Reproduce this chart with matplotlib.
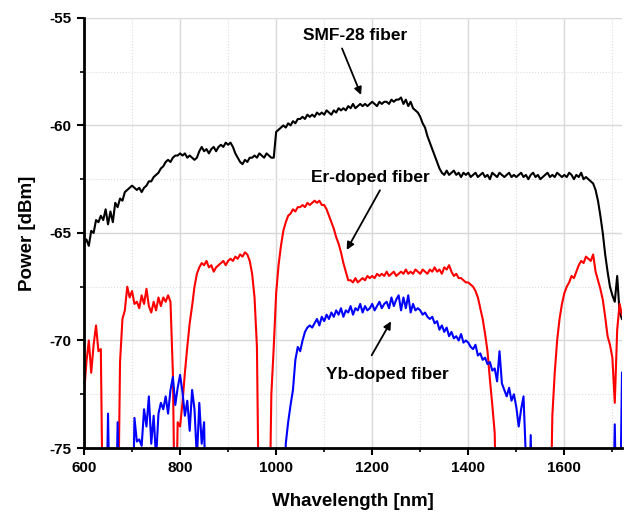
import numpy as np
import matplotlib
matplotlib.use("Agg")
import matplotlib.pyplot as plt
from matplotlib.ticker import MultipleLocator

plt.rcParams["font.family"] = ["Liberation Sans", "DejaVu Sans"]
plt.rcParams["font.weight"] = "bold"
plt.rcParams["axes.unicode_minus"] = False

# wavelength grid, 5 nm steps from 600 to 1720 nm
wavelength = np.arange(600, 1721, 5)

# values below -75 dBm fall off the plotted range (-80 = below the axis)
smf28 = [
    -65.5, -65.3, -65.6, -64.9, -65.0, -64.4, -64.5, -64.2, -64.4, -63.9, -64.6, -64.0, -64.5, -63.6, -63.8, -63.4, -63.5, -63.1, -63.0, -62.9,
    -62.8, -62.9, -63.0, -62.9, -63.1, -62.9, -62.8, -62.6, -62.6, -62.4, -62.3, -62.2, -62.0, -61.9, -61.7, -61.6, -61.7, -61.5, -61.4, -61.4,
    -61.3, -61.4, -61.3, -61.5, -61.4, -61.5, -61.6, -61.5, -61.2, -61.0, -61.2, -61.1, -61.3, -61.1, -61.0, -61.2, -61.0, -60.9, -61.0, -60.8,
    -60.9, -60.8, -61.0, -61.3, -61.5, -61.7, -61.8, -61.6, -61.7, -61.5, -61.5, -61.4, -61.5, -61.3, -61.4, -61.5, -61.3, -61.4, -61.5, -61.5,
    -60.3, -60.2, -60.1, -60.0, -60.1, -59.9, -60.0, -59.8, -59.9, -59.7, -59.7, -59.6, -59.7, -59.5, -59.6, -59.5, -59.6, -59.4, -59.5, -59.4,
    -59.5, -59.3, -59.4, -59.5, -59.3, -59.4, -59.2, -59.3, -59.2, -59.3, -59.1, -59.2, -59.0, -59.2, -59.1, -59.0, -59.1, -59.0, -59.1, -59.0,
    -58.9, -59.0, -59.1, -58.9, -59.0, -58.9, -58.9, -59.0, -58.8, -58.9, -58.8, -58.8, -58.7, -59.0, -58.8, -59.1, -58.9, -59.2, -59.3, -59.4,
    -59.6, -59.9, -60.1, -60.5, -60.8, -61.1, -61.4, -61.7, -62.0, -62.2, -62.3, -62.1, -62.3, -62.2, -62.1, -62.3, -62.2, -62.4, -62.2, -62.3,
    -62.2, -62.4, -62.3, -62.2, -62.4, -62.3, -62.2, -62.4, -62.3, -62.5, -62.2, -62.3, -62.4, -62.2, -62.3, -62.4, -62.3, -62.2, -62.4, -62.3,
    -62.4, -62.3, -62.2, -62.4, -62.3, -62.5, -62.3, -62.2, -62.4, -62.3, -62.5, -62.4, -62.3, -62.2, -62.4, -62.3, -62.4, -62.2, -62.3, -62.4,
    -62.3, -62.4, -62.2, -62.3, -62.5, -62.3, -62.4, -62.2, -62.5, -62.4, -62.5, -62.6, -62.7, -63.0, -63.5, -64.2, -65.0, -66.0, -66.8, -67.5,
    -67.9, -68.2, -67.0, -68.7, -69.0,
]

er_doped = [
    -72.5, -71.0, -70.0, -71.5, -70.2, -69.3, -70.5, -70.4, -80, -80, -80, -80, -80, -80, -80, -71.0, -69.0, -68.6, -67.5, -68.0,
    -67.7, -68.3, -68.2, -68.5, -67.9, -68.3, -67.6, -68.4, -68.7, -68.2, -68.6, -68.0, -68.4, -68.0, -68.2, -67.9, -68.2, -71.5, -80, -73.8,
    -74.0, -72.9, -71.5, -70.3, -69.2, -68.4, -67.5, -66.9, -66.6, -66.4, -66.5, -66.3, -66.6, -66.5, -66.8, -66.6, -66.5, -66.4, -66.3, -66.5,
    -66.3, -66.2, -66.3, -66.1, -66.2, -66.0, -66.1, -65.9, -66.0, -66.3, -66.9, -68.0, -70.3, -80, -80, -80, -80, -80, -72.5, -70.3,
    -67.8, -66.5, -65.6, -64.9, -64.5, -64.2, -64.1, -63.9, -64.0, -63.8, -63.8, -63.7, -63.8, -63.6, -63.7, -63.6, -63.5, -63.6, -63.5, -63.7,
    -63.7, -63.9, -64.2, -64.5, -64.8, -65.2, -65.5, -65.9, -66.4, -66.8, -67.2, -67.2, -67.3, -67.1, -67.3, -67.2, -67.1, -67.2, -67.0, -67.1,
    -67.0, -67.1, -66.9, -67.0, -66.9, -67.0, -66.8, -67.0, -66.9, -66.8, -67.0, -66.9, -66.8, -66.9, -66.7, -66.9, -66.8, -66.9, -66.7, -66.8,
    -66.9, -66.7, -66.8, -66.9, -66.7, -66.8, -66.6, -66.8, -66.7, -66.9, -66.6, -66.7, -66.5, -66.8, -67.0, -66.9, -67.1, -67.1, -67.2, -67.3,
    -67.3, -67.4, -67.5, -67.7, -68.0, -68.5, -69.0, -69.7, -70.5, -71.8, -73.0, -74.3, -80, -80, -80, -80, -80, -80, -80, -80,
    -80, -80, -80, -80, -80, -80, -80, -80, -80, -80, -80, -80, -80, -80, -80, -73.5, -71.5, -70.0, -69.0, -68.3,
    -67.8, -67.5, -67.3, -67.0, -67.1, -66.8, -66.5, -66.3, -66.4, -66.1, -66.2, -66.3, -66.0, -66.8, -67.2, -67.6, -68.1, -68.9, -69.8, -70.2,
    -70.8, -72.9, -69.5, -68.3, -68.8,
]

yb_doped = [
    -80, -80, -80, -80, -80, -80, -80, -80, -80, -80, -73.4, -80, -80, -80, -73.8, -80, -80, -80, -80, -80,
    -80, -73.6, -74.7, -74.6, -74.9, -73.2, -74.0, -72.6, -74.8, -73.5, -75.5, -73.4, -72.9, -73.2, -72.6, -73.4, -72.3, -71.7, -73.0, -72.2,
    -71.6, -72.4, -73.5, -72.8, -74.2, -72.3, -73.2, -75.5, -72.9, -74.8, -73.8, -80, -80, -80, -80, -80, -80, -80, -80, -80,
    -80, -80, -80, -80, -80, -80, -80, -80, -80, -80, -80, -80, -80, -80, -80, -80, -80, -80, -80, -80,
    -80, -80, -80, -80, -74.8, -73.8, -73.0, -72.3, -70.9, -70.3, -70.5, -70.0, -69.6, -69.4, -69.3, -69.4, -69.2, -69.0, -69.3, -68.9,
    -69.1, -68.8, -69.0, -68.7, -68.9, -68.6, -68.8, -68.5, -68.9, -68.6, -68.7, -68.4, -68.8, -68.5, -68.6, -68.3, -68.7, -68.4, -68.6, -68.5,
    -68.3, -68.6, -68.4, -68.2, -68.5, -68.3, -68.2, -68.5, -68.0, -68.4, -68.1, -67.9, -68.6, -68.0, -68.5, -67.9, -68.7, -68.3, -68.6, -68.5,
    -68.6, -68.8, -68.7, -68.9, -69.0, -68.9, -69.2, -69.1, -69.5, -69.3, -69.6, -69.4, -69.8, -69.6, -69.9, -69.8, -70.0, -69.7, -70.1, -70.0,
    -70.1, -70.3, -70.4, -70.2, -70.7, -70.6, -70.9, -70.8, -71.1, -71.0, -71.4, -71.3, -71.9, -70.5, -72.0, -72.3, -72.6, -72.2, -72.8, -72.5,
    -73.1, -74.0, -73.2, -72.6, -75.5, -80, -74.4, -80, -80, -80, -80, -80, -80, -80, -80, -80, -80, -80, -80, -80,
    -80, -80, -80, -80, -80, -80, -80, -80, -80, -80, -80, -80, -80, -80, -80, -80, -80, -80, -80, -80,
    -80, -73.9, -80, -80, -71.5,
]

fig = plt.figure(figsize=(6.27, 5.12), dpi=100)
ax = fig.add_axes((0.134, 0.125, 0.858, 0.840))

ax.plot(wavelength, smf28, color="black", lw=1.5)
ax.plot(wavelength, er_doped, color="#ff0000", lw=1.5)
ax.plot(wavelength, yb_doped, color="#0000ff", lw=1.5)

ax.set_xlim(600, 1720)
ax.set_ylim(-75, -55)
ax.xaxis.set_major_locator(MultipleLocator(200))
ax.xaxis.set_minor_locator(MultipleLocator(100))
ax.yaxis.set_major_locator(MultipleLocator(5))
ax.yaxis.set_minor_locator(MultipleLocator(2.5))

ax.grid(which="major", color="#d8d8d8", lw=1.0, ls="-")
ax.grid(which="minor", color="#dddddd", lw=0.8, ls=":")
ax.set_axisbelow(True)

for side in ("top", "right"):
    ax.spines[side].set_visible(False)
for side in ("left", "bottom"):
    ax.spines[side].set_linewidth(2.0)

ax.tick_params(which="major", direction="out", length=5, width=1.5, labelsize=11, pad=4)
ax.tick_params(which="minor", direction="out", length=3, width=1.2)
for lab in ax.get_xticklabels() + ax.get_yticklabels():
    lab.set_fontweight("bold")

ax.set_xlabel("Whavelength [nm]", fontsize=13.5, fontweight="bold", labelpad=13)
ax.set_ylabel("Power [dBm]", fontsize=13.5, fontweight="bold", labelpad=10)

arrow = dict(arrowstyle="-|>", color="black", lw=1.3, mutation_scale=11)
ax.annotate("", xy=(1179, -58.7), xytext=(1135, -56.3), arrowprops=arrow)
ax.text(1165, -55.8, "SMF-28 fiber", fontsize=12.5, fontweight="bold", ha="center", va="center")
ax.annotate("", xy=(1144, -65.9), xytext=(1219, -62.9), arrowprops=arrow)
ax.text(1196, -62.4, "Er-doped fiber", fontsize=12.5, fontweight="bold", ha="center", va="center")
ax.annotate("", xy=(1242, -69.0), xytext=(1196, -70.8), arrowprops=arrow)
ax.text(1231, -71.6, "Yb-doped fiber", fontsize=12.5, fontweight="bold", ha="center", va="center")

fig.savefig("out.png", dpi=100)
